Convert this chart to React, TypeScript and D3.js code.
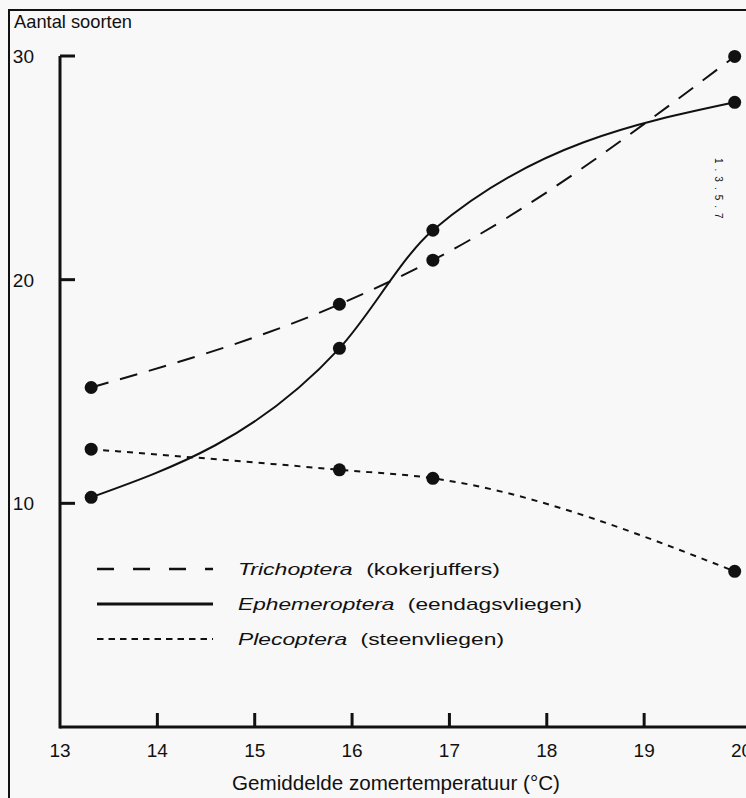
import React from "react";
import * as d3 from "d3";

// Mean summer temperature (°C) at the four sampled streams
const temps = [13.32, 15.87, 16.83, 19.93];
// Number of species per insect order
const trichoptera = [15.18, 18.9, 20.87, 29.98];
const ephemeroptera = [10.27, 16.93, 22.21, 27.93];
const plecoptera = [12.42, 11.5, 11.12, 6.96];

const xTicks = [13, 14, 15, 16, 17, 18, 19, 20];
const yTicks = [10, 20, 30];

const legendNames = ["Trichoptera", "Ephemeroptera", "Plecoptera"];
const legendDutch = ["(kokerjuffers)", "(eendagsvliegen)", "(steenvliegen)"];

const W = 746;
const H = 798;
const FONT = "'Liberation Sans', Arial, Helvetica, sans-serif";
const INK = "#111";

export default function App() {
  const x = d3.scaleLinear().domain([13, 20]).range([60, 741.5]);
  const y = d3.scaleLinear().domain([0, 30]).range([727, 56]);

  const line = d3
    .line<number>()
    .x((_, i) => x(temps[i]))
    .y((d) => y(d))
    .curve(d3.curveMonotoneX);

  const series = [
    { values: trichoptera, dash: "18,12", width: 2 },
    { values: ephemeroptera, dash: null, width: 2 },
    { values: plecoptera, dash: "6,6", width: 2 },
  ];
  const legendStyles = [
    { dash: "17,19", width: 2.5 },
    { dash: null, width: 3 },
    { dash: "6.5,5", width: 2 },
  ];
  const legendRowY = [569, 604, 639];
  const legendTextLen = [262, 344, 266];

  const axisY = y(0);

  return (
    <svg
      width={W}
      height={H}
      style={{ position: "fixed", left: 0, top: 0, display: "block" }}
      fontFamily={FONT}
    >
      <rect x={0} y={0} width={W} height={H} fill="#f8f8f8" />
      {/* outer frame */}
      <rect x={9} y={10} width={W + 20} height={H + 20} fill="none" stroke={INK} strokeWidth={2} />

      {/* y axis title */}
      <text x={14} y={28} fontSize={19} fill={INK} textLength={118} lengthAdjust="spacingAndGlyphs">
        Aantal soorten
      </text>

      {/* axes */}
      <line x1={x(13)} x2={W + 10} y1={axisY} y2={axisY} stroke={INK} strokeWidth={3} />
      <line x1={x(13)} x2={x(13)} y1={y(30)} y2={axisY + 1.5} stroke={INK} strokeWidth={3} />
      {yTicks.map((t) => (
        <g key={"y" + t}>
          <line x1={x(13)} x2={x(13) + 15} y1={y(t)} y2={y(t)} stroke={INK} strokeWidth={3} />
          <text x={34} y={y(t) + 7} fontSize={19} textAnchor="end" fill={INK}>
            {t}
          </text>
        </g>
      ))}
      {xTicks.map((t) => (
        <g key={"x" + t}>
          {t > 13 && t < 20 && (
            <line x1={x(t)} x2={x(t)} y1={axisY} y2={axisY - 14} stroke={INK} strokeWidth={3} />
          )}
          <text x={x(t)} y={757} fontSize={19} textAnchor="middle" fill={INK}>
            {t}
          </text>
        </g>
      ))}
      <text x={232} y={790} fontSize={20} fill={INK} textLength={328} lengthAdjust="spacingAndGlyphs">
        Gemiddelde zomertemperatuur (°C)
      </text>

      {/* series curves */}
      {series.map((s, i) => (
        <path
          key={"s" + i}
          d={line(s.values) || ""}
          fill="none"
          stroke={INK}
          strokeWidth={s.width}
          strokeDasharray={s.dash || undefined}
        />
      ))}
      {/* measured points */}
      {series.map((s, i) =>
        s.values.map((v, j) => (
          <circle key={`p${i}-${j}`} cx={x(temps[j])} cy={y(v)} r={6.5} fill={INK} />
        ))
      )}

      {/* legend */}
      {legendNames.map((name, i) => (
        <g key={"l" + i}>
          <line
            x1={97}
            x2={213}
            y1={legendRowY[i]}
            y2={legendRowY[i]}
            stroke={INK}
            strokeWidth={legendStyles[i].width}
            strokeDasharray={legendStyles[i].dash || undefined}
          />
          <text
            x={238}
            y={legendRowY[i] + 6}
            fontSize={17}
            fill={INK}
            textLength={legendTextLen[i]}
            lengthAdjust="spacingAndGlyphs"
          >
            <tspan fontStyle="italic">{name}</tspan>
            <tspan dx={10}>{legendDutch[i]}</tspan>
          </text>
        </g>
      ))}

      {/* small vertical plate reference */}
      <text
        x={0}
        y={0}
        fontSize={10}
        fill={INK}
        letterSpacing={5}
        transform="translate(715,158) rotate(90)"
      >
        1.3.5.7
      </text>
    </svg>
  );
}
